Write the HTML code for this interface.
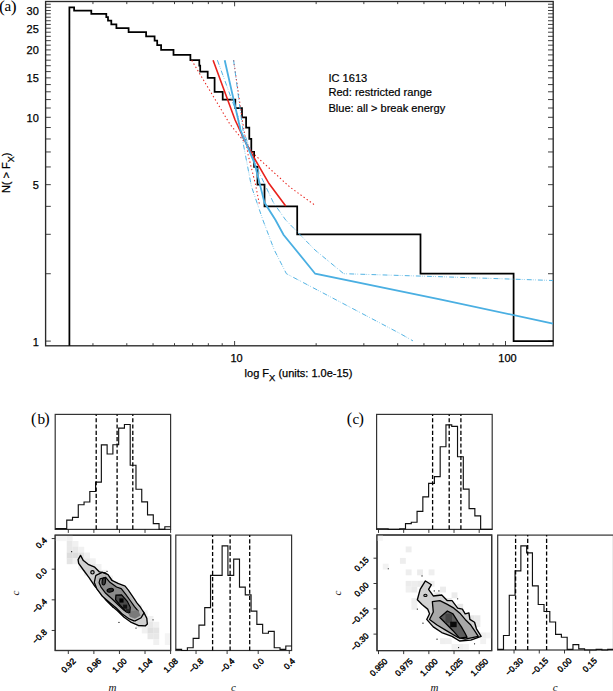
<!DOCTYPE html>
<html><head><meta charset="utf-8"><style>
html,body{margin:0;padding:0;background:#fff;}
svg{display:block;}
.sa{font-family:"Liberation Sans",sans-serif;font-size:11px;fill:#000;stroke:#000;stroke-width:0.25px;}
.sl{font-family:"Liberation Sans",sans-serif;font-size:11.1px;fill:#000;stroke:#000;stroke-width:0.2px;}
.se{font-family:"Liberation Serif",serif;fill:#000;}
.st{font-family:"Liberation Sans",sans-serif;font-size:8.4px;fill:#000;stroke:#000;stroke-width:0.4px;}
.sm{font-family:"Liberation Serif",serif;font-style:italic;font-size:11px;fill:#111;}
</style></head><body>
<svg width="613" height="691" viewBox="0 0 613 691">
<rect width="613" height="691" fill="#fff"/>
<rect x="45.6" y="1.5" width="507.60" height="344.30" fill="none" stroke="#2a2a2a" stroke-width="1.35"/>
<path d="M45.60 341.10h5.2M553.20 341.10h-5.2M45.60 273.73h5.2M553.20 273.73h-5.2M45.60 234.31h5.2M553.20 234.31h-5.2M45.60 206.35h5.2M553.20 206.35h-5.2M45.60 184.66h5.2M553.20 184.66h-5.2M45.60 166.94h5.2M553.20 166.94h-5.2M45.60 151.96h5.2M553.20 151.96h-5.2M45.60 138.98h5.2M553.20 138.98h-5.2M45.60 127.53h5.2M553.20 127.53h-5.2M45.60 117.29h5.2M553.20 117.29h-5.2M45.60 108.02h5.2M553.20 108.02h-5.2M45.60 99.57h5.2M553.20 99.57h-5.2M45.60 91.79h5.2M553.20 91.79h-5.2M45.60 84.58h5.2M553.20 84.58h-5.2M45.60 77.88h5.2M553.20 77.88h-5.2M45.60 71.60h5.2M553.20 71.60h-5.2M45.60 65.71h5.2M553.20 65.71h-5.2M45.60 60.16h5.2M553.20 60.16h-5.2M45.60 54.90h5.2M553.20 54.90h-5.2M45.60 49.91h5.2M553.20 49.91h-5.2M45.60 45.17h5.2M553.20 45.17h-5.2M45.60 40.65h5.2M553.20 40.65h-5.2M45.60 36.33h5.2M553.20 36.33h-5.2M45.60 32.19h5.2M553.20 32.19h-5.2M45.60 28.23h5.2M553.20 28.23h-5.2M45.60 24.41h5.2M553.20 24.41h-5.2M45.60 20.74h5.2M553.20 20.74h-5.2M45.60 17.21h5.2M553.20 17.21h-5.2M45.60 13.80h5.2M553.20 13.80h-5.2M45.60 10.50h5.2M553.20 10.50h-5.2M45.60 7.32h5.2M553.20 7.32h-5.2M45.60 4.23h5.2M553.20 4.23h-5.2M92.95 345.80v-2.6M92.95 1.50v2.6M126.80 345.80v-2.6M126.80 1.50v2.6M153.05 345.80v-2.6M153.05 1.50v2.6M174.50 345.80v-2.6M174.50 1.50v2.6M192.64 345.80v-2.6M192.64 1.50v2.6M208.35 345.80v-2.6M208.35 1.50v2.6M222.20 345.80v-2.6M222.20 1.50v2.6M234.60 345.80v-4.8M234.60 1.50v4.8M316.15 345.80v-2.6M316.15 1.50v2.6M363.85 345.80v-2.6M363.85 1.50v2.6M397.70 345.80v-2.6M397.70 1.50v2.6M423.95 345.80v-2.6M423.95 1.50v2.6M445.40 345.80v-2.6M445.40 1.50v2.6M463.54 345.80v-2.6M463.54 1.50v2.6M479.25 345.80v-2.6M479.25 1.50v2.6M493.10 345.80v-2.6M493.10 1.50v2.6M505.50 345.80v-4.8M505.50 1.50v4.8" stroke="#2a2a2a" stroke-width="0.9" fill="none"/>
<text x="38.8" y="345.60" text-anchor="end" class="sa">1</text>
<text x="38.8" y="189.16" text-anchor="end" class="sa">5</text>
<text x="38.8" y="121.79" text-anchor="end" class="sa">10</text>
<text x="38.8" y="82.38" text-anchor="end" class="sa">15</text>
<text x="38.8" y="54.41" text-anchor="end" class="sa">20</text>
<text x="38.8" y="32.73" text-anchor="end" class="sa">25</text>
<text x="38.8" y="15.00" text-anchor="end" class="sa">30</text>
<text x="236.60" y="361.6" text-anchor="middle" class="sa">10</text>
<text x="507.50" y="361.6" text-anchor="middle" class="sa">100</text>
<text x="244.6" y="377.4" class="sa">log F<tspan dy="3.3" font-size="9.4">X</tspan><tspan dy="-3.3"> (units: 1.0e-15)</tspan></text>
<text transform="translate(10.3,193.1) rotate(-90)" class="sa">N( &gt; F<tspan dy="3.2" font-size="9">X</tspan><tspan dy="-3.2">)</tspan></text>
<text class="se"><tspan x="-0.9" y="11.6" font-size="17.6">(</tspan><tspan x="4.6" y="10.9" font-size="15">a</tspan><tspan x="10.7" y="11.6" font-size="17.6">)</tspan></text>
<text x="328.4" y="81.7" class="sl">IC 1613</text>
<text x="328.4" y="95.9" class="sl">Red: restricted range</text>
<text x="328.4" y="112.1" class="sl">Blue: all &gt; break energy</text>
<path d="M69.40 345.80L69.40 7.32L74.10 7.32L74.10 10.50L91.30 10.50L91.30 13.80L106.30 13.80L106.30 17.21L108.00 17.21L108.00 20.74L111.30 20.74L111.30 24.41L116.40 24.41L116.40 28.23L128.60 28.23L128.60 32.19L146.10 32.19L146.10 36.33L154.60 36.33L154.60 40.65L157.20 40.65L157.20 45.17L161.10 45.17L161.10 49.91L173.50 49.91L173.50 54.90L190.40 54.90L190.40 60.16L199.30 60.16L199.30 65.71L200.20 65.71L200.20 71.60L207.70 71.60L207.70 77.88L214.60 77.88L214.60 91.79L222.70 91.79L222.70 99.57L235.30 99.57L235.30 108.02L242.00 108.02L242.00 117.29L246.10 117.29L246.10 127.53L249.30 127.53L249.30 138.98L251.30 138.98L251.30 151.96L254.10 151.96L254.10 166.94L257.50 166.94L257.50 184.66L264.50 184.66L264.50 206.35L297.20 206.35L297.20 234.31L420.50 234.31L420.50 273.73L513.60 273.73L513.60 341.10L553.20 341.10" fill="none" stroke="#000" stroke-width="1.75" stroke-linejoin="miter"/>
<path d="M191.7 60.2L200.0 74.3L230.0 124.3L256.0 156.1L290.0 187.2L315.9 205.9" fill="none" stroke="#e8221c" stroke-width="1.05" stroke-dasharray="1.4 2.4"/>
<path d="M233.6 60.2L242.3 120.0L248.1 154.7L255.3 183.6L259.6 205.0" fill="none" stroke="#e8221c" stroke-width="1.05" stroke-dasharray="1.4 2.4"/>
<path d="M217.4 60.2L238.2 117.2L251.4 186.3L262.9 220.0L274.3 250.0L286.4 273.7L400.0 333.5L413.0 340.9" fill="none" stroke="#4aafe2" stroke-width="0.95" stroke-dasharray="4.9 1.2 0.6 1.5 0.6 2.3"/>
<path d="M233.6 60.2L242.9 130.0L258.9 172.0L273.4 202.6L285.7 220.0L315.0 250.0L343.7 273.7L440.0 276.7L553.0 280.5" fill="none" stroke="#4aafe2" stroke-width="0.95" stroke-dasharray="4.9 1.2 0.6 1.5 0.6 2.3"/>
<path d="M213.1 60.2L235.1 120.0L244.5 140.2L253.1 156.1L269.0 183.6L285.7 206.0" fill="none" stroke="#e8221c" stroke-width="1.6"/>
<path d="M224.7 60.2L240.5 130.0L254.6 163.4L264.5 202.6L275.5 220.0L283.5 234.7L315.2 273.7L440.0 299.3L553.0 323.6" fill="none" stroke="#4aafe2" stroke-width="1.8"/>
<text class="se"><tspan x="31.1" y="423.9" font-size="16.3">(</tspan><tspan x="37.4" y="423.7" font-size="15.3">b</tspan><tspan x="44.2" y="423.9" font-size="16.3">)</tspan></text>
<rect x="55.2" y="414.4" width="115.40" height="115.00" fill="none" stroke="#333" stroke-width="1.2"/>
<path d="M55.20 528.60L60.97 528.60L60.97 528.60L66.74 528.60L66.74 520.10L72.51 520.10L72.51 517.40L78.28 517.40L78.28 504.70L84.05 504.70L84.05 502.00L89.82 502.00L89.82 491.50L95.59 491.50L95.59 482.10L101.36 482.10L101.36 444.80L107.13 444.80L107.13 454.00L112.90 454.00L112.90 444.70L118.67 444.70L118.67 428.10L124.44 428.10L124.44 424.50L130.21 424.50L130.21 465.20L135.98 465.20L135.98 489.20L141.75 489.20L141.75 501.90L147.52 501.90L147.52 514.90L153.29 514.90L153.29 523.60L159.06 523.60L159.06 529.40L164.83 529.40L164.83 526.70L170.60 526.70" fill="none" stroke="#111" stroke-width="1.15" />
<path d="M96.2 529.4V414.4" stroke="#000" stroke-width="1.3" stroke-dasharray="4.1 2.2"/>
<path d="M117.1 529.4V414.4" stroke="#000" stroke-width="1.3" stroke-dasharray="4.1 2.2"/>
<path d="M132.8 529.4V414.4" stroke="#000" stroke-width="1.3" stroke-dasharray="4.1 2.2"/>
<rect x="55.2" y="535.2" width="115.40" height="115.30" fill="none" stroke="#333" stroke-width="1.2"/>
<rect x="175.8" y="535.1" width="115.80" height="115.40" fill="none" stroke="#333" stroke-width="1.2"/>
<path d="M175.80 649.30L181.59 649.30L181.59 650.50L187.38 650.50L187.38 647.70L193.17 647.70L193.17 638.30L198.96 638.30L198.96 625.10L204.75 625.10L204.75 607.60L210.54 607.60L210.54 575.40L216.33 575.40L216.33 575.40L222.12 575.40L222.12 545.80L227.91 545.80L227.91 575.40L233.70 575.40L233.70 559.10L239.49 559.10L239.49 587.10L245.28 587.10L245.28 594.80L251.07 594.80L251.07 611.10L256.86 611.10L256.86 624.40L262.65 624.40L262.65 633.20L268.44 633.20L268.44 631.40L274.23 631.40L274.23 647.70L280.02 647.70L280.02 649.30L285.81 649.30L285.81 646.00L291.60 646.00" fill="none" stroke="#111" stroke-width="1.15" />
<path d="M212.6 650.5V535.1" stroke="#000" stroke-width="1.3" stroke-dasharray="4.1 2.2"/>
<path d="M230.1 650.5V535.1" stroke="#000" stroke-width="1.3" stroke-dasharray="4.1 2.2"/>
<path d="M249.7 650.5V535.1" stroke="#000" stroke-width="1.3" stroke-dasharray="4.1 2.2"/>
<text class="se"><tspan x="346.8" y="423.9" font-size="16.3">(</tspan><tspan x="352.5" y="423.7" font-size="15">c</tspan><tspan x="358.4" y="423.9" font-size="16.3">)</tspan></text>
<rect x="376.6" y="414.4" width="115.60" height="115.00" fill="none" stroke="#333" stroke-width="1.2"/>
<path d="M376.60 528.70L382.38 528.70L382.38 528.70L388.16 528.70L388.16 529.40L393.94 529.40L393.94 529.40L399.72 529.40L399.72 528.70L405.50 528.70L405.50 523.60L411.28 523.60L411.28 522.20L417.06 522.20L417.06 511.30L422.84 511.30L422.84 496.90L428.62 496.90L428.62 483.30L434.40 483.30L434.40 476.60L440.18 476.60L440.18 446.70L445.96 446.70L445.96 424.80L451.74 424.80L451.74 426.30L457.52 426.30L457.52 456.70L463.30 456.70L463.30 489.10L469.08 489.10L469.08 508.60L474.86 508.60L474.86 515.90L480.64 515.90L480.64 529.40L486.42 529.40L486.42 529.40L492.20 529.40" fill="none" stroke="#111" stroke-width="1.15" />
<path d="M432.6 529.4V414.4" stroke="#000" stroke-width="1.3" stroke-dasharray="4.1 2.2"/>
<path d="M449.2 529.4V414.4" stroke="#000" stroke-width="1.3" stroke-dasharray="4.1 2.2"/>
<path d="M460.9 529.4V414.4" stroke="#000" stroke-width="1.3" stroke-dasharray="4.1 2.2"/>
<rect x="377.0" y="535.0" width="114.70" height="115.60" fill="none" stroke="#333" stroke-width="1.2"/>
<rect x="497.7" y="535.1" width="115.80" height="114.90" fill="none" stroke="#333" stroke-width="1.2"/>
<path d="M497.70 649.30L503.49 649.30L503.49 635.50L509.28 635.50L509.28 595.20L515.07 595.20L515.07 570.80L520.86 570.80L520.86 545.80L526.65 545.80L526.65 552.80L532.44 552.80L532.44 585.90L538.23 585.90L538.23 604.50L544.02 604.50L544.02 611.50L549.81 611.50L549.81 622.00L555.60 622.00L555.60 634.40L561.39 634.40L561.39 637.20L567.18 637.20L567.18 649.30L572.97 649.30L572.97 644.60L578.76 644.60L578.76 648.80L584.55 648.80L584.55 650.00L590.34 650.00L590.34 650.00L596.13 650.00L596.13 649.30L601.92 649.30L601.92 650.00L607.71 650.00L607.71 649.30L613.50 649.30" fill="none" stroke="#111" stroke-width="1.15" />
<path d="M515.6 650.0V535.1" stroke="#000" stroke-width="1.3" stroke-dasharray="4.1 2.2"/>
<path d="M527.7 650.0V535.1" stroke="#000" stroke-width="1.3" stroke-dasharray="4.1 2.2"/>
<path d="M546.6 650.0V535.1" stroke="#000" stroke-width="1.3" stroke-dasharray="4.1 2.2"/>
<path d="M68.30 529.4v3.5M68.30 650.5v3.5M93.88 529.4v3.5M93.88 650.5v3.5M119.45 529.4v3.5M119.45 650.5v3.5M145.03 529.4v3.5M145.03 650.5v3.5M170.60 529.4v3.5M170.60 650.5v3.5M55.2 538.56h-3.5M55.2 569.20h-3.5M55.2 599.84h-3.5M55.2 630.48h-3.5M196.04 650.5v3.5M227.12 650.5v3.5M258.20 650.5v3.5M289.28 650.5v3.5" stroke="#222" stroke-width="0.9" fill="none"/>
<text transform="translate(70.44,667.56) rotate(-45)" text-anchor="middle" class="st">0.92</text>
<text transform="translate(96.02,667.56) rotate(-45)" text-anchor="middle" class="st">0.96</text>
<text transform="translate(121.59,667.56) rotate(-45)" text-anchor="middle" class="st">1.00</text>
<text transform="translate(147.17,667.56) rotate(-45)" text-anchor="middle" class="st">1.04</text>
<text transform="translate(172.74,667.56) rotate(-45)" text-anchor="middle" class="st">1.08</text>
<text transform="translate(47.50,540.86) rotate(-45)" text-anchor="end" class="st">0.4</text>
<text transform="translate(47.50,571.50) rotate(-45)" text-anchor="end" class="st">0.0</text>
<text transform="translate(47.50,602.14) rotate(-45)" text-anchor="end" class="st">−0.4</text>
<text transform="translate(47.50,632.78) rotate(-45)" text-anchor="end" class="st">−0.8</text>
<text transform="translate(198.18,667.65) rotate(-45)" text-anchor="middle" class="st">−0.8</text>
<text transform="translate(229.26,667.65) rotate(-45)" text-anchor="middle" class="st">−0.4</text>
<text transform="translate(260.34,665.91) rotate(-45)" text-anchor="middle" class="st">0.0</text>
<text transform="translate(291.42,665.91) rotate(-45)" text-anchor="middle" class="st">0.4</text>
<text x="112.4" y="691.3" text-anchor="middle" class="sm">m</text>
<text x="233.4" y="691.3" text-anchor="middle" class="sm">c</text>
<text transform="translate(19.4,593) rotate(-90)" text-anchor="middle" class="sm">c</text>
<path d="M378.50 529.4v3.5M378.50 650.6v3.5M403.68 529.4v3.5M403.68 650.6v3.5M428.85 529.4v3.5M428.85 650.6v3.5M454.02 529.4v3.5M454.02 650.6v3.5M479.20 529.4v3.5M479.20 650.6v3.5M377.0 558.20h-3.5M377.0 583.50h-3.5M377.0 608.80h-3.5M377.0 634.11h-3.5M514.04 650.0v3.5M539.27 650.0v3.5M564.50 650.0v3.5M589.73 650.0v3.5" stroke="#222" stroke-width="0.9" fill="none"/>
<text transform="translate(380.64,669.32) rotate(-45)" text-anchor="middle" class="st">0.950</text>
<text transform="translate(405.82,669.32) rotate(-45)" text-anchor="middle" class="st">0.975</text>
<text transform="translate(430.99,669.32) rotate(-45)" text-anchor="middle" class="st">1.000</text>
<text transform="translate(456.17,669.32) rotate(-45)" text-anchor="middle" class="st">1.025</text>
<text transform="translate(481.34,669.32) rotate(-45)" text-anchor="middle" class="st">1.050</text>
<text transform="translate(369.30,560.50) rotate(-45)" text-anchor="end" class="st">0.15</text>
<text transform="translate(369.30,585.80) rotate(-45)" text-anchor="end" class="st">0.00</text>
<text transform="translate(369.30,611.10) rotate(-45)" text-anchor="end" class="st">−0.15</text>
<text transform="translate(369.30,636.41) rotate(-45)" text-anchor="end" class="st">−0.30</text>
<text transform="translate(516.18,668.80) rotate(-45)" text-anchor="middle" class="st">−0.30</text>
<text transform="translate(541.41,668.80) rotate(-45)" text-anchor="middle" class="st">−0.15</text>
<text transform="translate(566.64,667.06) rotate(-45)" text-anchor="middle" class="st">0.00</text>
<text transform="translate(591.87,667.06) rotate(-45)" text-anchor="middle" class="st">0.15</text>
<text x="434.4" y="691.3" text-anchor="middle" class="sm">m</text>
<text x="555.2" y="691.3" text-anchor="middle" class="sm">c</text>
<text transform="translate(341,593) rotate(-90)" text-anchor="middle" class="sm">c</text>
<rect x="66.74" y="535.20" width="5.92" height="5.92" fill="#f1f1f1"/><rect x="66.74" y="540.97" width="5.92" height="5.92" fill="#e8e8e8"/><rect x="66.74" y="546.74" width="5.92" height="5.92" fill="#e8e8e8"/><rect x="66.74" y="552.51" width="5.92" height="5.92" fill="#dcdcdc"/><rect x="72.51" y="540.97" width="5.92" height="5.92" fill="#f1f1f1"/><rect x="72.51" y="546.74" width="5.92" height="5.92" fill="#e8e8e8"/><rect x="72.51" y="552.51" width="5.92" height="5.92" fill="#dddddd"/><rect x="72.51" y="558.28" width="5.92" height="5.92" fill="#f1f1f1"/><rect x="78.28" y="546.74" width="5.92" height="5.92" fill="#f1f1f1"/><rect x="78.28" y="552.51" width="5.92" height="5.92" fill="#e2e2e2"/><rect x="78.28" y="558.28" width="5.92" height="5.92" fill="#e8e8e8"/><rect x="78.28" y="564.05" width="5.92" height="5.92" fill="#f1f1f1"/><rect x="84.05" y="552.51" width="5.92" height="5.92" fill="#f1f1f1"/><rect x="84.05" y="558.28" width="5.92" height="5.92" fill="#e8e8e8"/><rect x="84.05" y="564.05" width="5.92" height="5.92" fill="#e8e8e8"/><rect x="84.05" y="569.82" width="5.92" height="5.92" fill="#f1f1f1"/><rect x="89.82" y="558.28" width="5.92" height="5.92" fill="#f1f1f1"/><rect x="89.82" y="564.05" width="5.92" height="5.92" fill="#e8e8e8"/><rect x="89.82" y="569.82" width="5.92" height="5.92" fill="#e8e8e8"/><rect x="89.82" y="575.59" width="5.92" height="5.92" fill="#f1f1f1"/><rect x="95.59" y="564.05" width="5.92" height="5.92" fill="#f1f1f1"/><rect x="95.59" y="569.82" width="5.92" height="5.92" fill="#e8e8e8"/><rect x="95.59" y="575.59" width="5.92" height="5.92" fill="#e8e8e8"/><rect x="95.59" y="581.36" width="5.92" height="5.92" fill="#f1f1f1"/><rect x="101.36" y="569.82" width="5.92" height="5.92" fill="#f1f1f1"/><rect x="101.36" y="575.59" width="5.92" height="5.92" fill="#e8e8e8"/><rect x="101.36" y="581.36" width="5.92" height="5.92" fill="#e8e8e8"/><rect x="101.36" y="587.13" width="5.92" height="5.92" fill="#f1f1f1"/><rect x="107.13" y="575.59" width="5.92" height="5.92" fill="#f1f1f1"/><rect x="107.13" y="581.36" width="5.92" height="5.92" fill="#e8e8e8"/><rect x="107.13" y="587.13" width="5.92" height="5.92" fill="#e8e8e8"/><rect x="107.13" y="592.90" width="5.92" height="5.92" fill="#f1f1f1"/><rect x="112.90" y="581.36" width="5.92" height="5.92" fill="#f1f1f1"/><rect x="112.90" y="587.13" width="5.92" height="5.92" fill="#e8e8e8"/><rect x="112.90" y="592.90" width="5.92" height="5.92" fill="#e8e8e8"/><rect x="112.90" y="598.67" width="5.92" height="5.92" fill="#f1f1f1"/><rect x="118.67" y="587.13" width="5.92" height="5.92" fill="#f1f1f1"/><rect x="118.67" y="592.90" width="5.92" height="5.92" fill="#e8e8e8"/><rect x="118.67" y="598.67" width="5.92" height="5.92" fill="#e8e8e8"/><rect x="118.67" y="604.44" width="5.92" height="5.92" fill="#f1f1f1"/><rect x="124.44" y="592.90" width="5.92" height="5.92" fill="#f1f1f1"/><rect x="124.44" y="598.67" width="5.92" height="5.92" fill="#e8e8e8"/><rect x="124.44" y="604.44" width="5.92" height="5.92" fill="#e8e8e8"/><rect x="124.44" y="610.21" width="5.92" height="5.92" fill="#f1f1f1"/><rect x="130.21" y="598.67" width="5.92" height="5.92" fill="#f1f1f1"/><rect x="130.21" y="604.44" width="5.92" height="5.92" fill="#e8e8e8"/><rect x="130.21" y="610.21" width="5.92" height="5.92" fill="#e8e8e8"/><rect x="130.21" y="615.98" width="5.92" height="5.92" fill="#f1f1f1"/><rect x="135.98" y="604.44" width="5.92" height="5.92" fill="#f1f1f1"/><rect x="135.98" y="610.21" width="5.92" height="5.92" fill="#e8e8e8"/><rect x="135.98" y="615.98" width="5.92" height="5.92" fill="#e8e8e8"/><rect x="135.98" y="621.75" width="5.92" height="5.92" fill="#f1f1f1"/><rect x="141.75" y="610.21" width="5.92" height="5.92" fill="#f1f1f1"/><rect x="141.75" y="615.98" width="5.92" height="5.92" fill="#e8e8e8"/><rect x="141.75" y="621.75" width="5.92" height="5.92" fill="#e8e8e8"/><rect x="141.75" y="627.52" width="5.92" height="5.92" fill="#f1f1f1"/><rect x="147.52" y="615.98" width="5.92" height="5.92" fill="#f1f1f1"/><rect x="147.52" y="621.75" width="5.92" height="5.92" fill="#e8e8e8"/><rect x="147.52" y="627.52" width="5.92" height="5.92" fill="#e0e0e0"/><rect x="147.52" y="633.29" width="5.92" height="5.92" fill="#e8e8e8"/><rect x="153.29" y="621.75" width="5.92" height="5.92" fill="#f1f1f1"/><rect x="153.29" y="627.52" width="5.92" height="5.92" fill="#e4e4e4"/><rect x="153.29" y="633.29" width="5.92" height="5.92" fill="#e8e8e8"/><rect x="153.29" y="639.06" width="5.92" height="5.92" fill="#f1f1f1"/><rect x="66.74" y="558.28" width="5.92" height="5.92" fill="#e4e4e4"/><rect x="55.20" y="535.20" width="5.92" height="5.92" fill="#f6f6f6"/><rect x="60.97" y="535.20" width="5.92" height="5.92" fill="#f6f6f6"/><rect x="164.83" y="639.06" width="5.92" height="5.92" fill="#f4f4f4"/><rect x="164.83" y="633.29" width="5.92" height="5.92" fill="#f4f4f4"/>
<path d="M80.55 555.44L83.39 560.55L88.12 564.33L94.74 567.17L99.47 571.90L105.15 572.85L109.88 577.58L113.67 582.31L121.24 585.72L125.97 588.94L129.75 594.61L133.54 600.29L136.38 605.02L140.16 608.81L143.95 612.59L146.79 618.27L147.35 623.95L145.46 625.84L138.27 625.46L130.70 622.06L124.08 617.32L117.45 610.70L111.78 605.97L106.10 600.29L100.42 592.72L94.74 586.10L89.07 577.58L83.39 570.01L78.66 563.39L78.09 559.60Z" fill="#d0d0d0" stroke="#000" stroke-width="1.35" stroke-linejoin="round"/>
<path d="M97.01 576.26L102.31 573.80L107.04 575.69L110.83 581.37L117.45 584.58L124.08 587.04L127.86 591.78L131.65 597.45L135.43 603.13L139.22 607.86L142.43 612.97L140.16 616.76L134.49 619.60L129.75 617.70L123.13 612.97L117.45 607.29L109.88 600.86L103.26 595.18L98.15 588.37L95.69 582.31Z" fill="#b4b4b4" stroke="#000" stroke-width="4.0" stroke-linejoin="round"/>
<path d="M97.01 576.26L102.31 573.80L107.04 575.69L110.83 581.37L117.45 584.58L124.08 587.04L127.86 591.78L131.65 597.45L135.43 603.13L139.22 607.86L142.43 612.97L140.16 616.76L134.49 619.60L129.75 617.70L123.13 612.97L117.45 607.29L109.88 600.86L103.26 595.18L98.15 588.37L95.69 582.31Z" fill="#b4b4b4" stroke="#bdbdbd" stroke-width="1.4" stroke-linejoin="round"/>
<path d="M100.04 578.91L105.72 577.39L109.88 582.31L116.51 587.04L121.24 588.56L125.97 594.61L130.70 601.24L134.49 606.54L138.27 611.08L136.00 614.49L130.70 614.11L124.08 610.32L118.40 605.02L112.15 598.97L105.72 593.29L100.99 587.04L99.10 582.69Z" fill="#8a8a8a" stroke="#000" stroke-width="1.2" stroke-linejoin="round"/>
<path d="M127.86 611.65L138.27 610.32L140.54 615.43L134.86 618.84L129.75 616.76Z" fill="#7a7a7a"/>
<path d="M115.94 595.18L121.62 594.80L127.29 601.24L130.32 607.29L129.75 612.59L125.97 611.65L120.29 605.40L115.56 599.72Z" fill="#4a4a4a" stroke="#000" stroke-width="1.2"/>
<rect x="119.35" y="598.40" width="4.2" height="4.2" fill="#000"/>
<rect x="123.13" y="604.64" width="4" height="4" fill="#111"/>
<rect x="125.97" y="609.19" width="3.2" height="3.2" fill="#222"/>
<ellipse cx="103.83" cy="581.37" rx="1.7" ry="3.6" transform="rotate(8 103.83 581.37)" fill="#3a3a3a" stroke="#000" stroke-width="1.1"/>
<ellipse cx="110.26" cy="590.26" rx="3.3" ry="1.8" transform="rotate(-12 110.26 590.26)" fill="#222" stroke="#000" stroke-width="1.1"/>
<circle cx="92.47" cy="572.28" r="1.7" fill="#c0c0c0" stroke="#000" stroke-width="1.2"/>
<circle cx="71.65" cy="551.65" r="0.6" fill="#000"/>
<circle cx="107.04" cy="571.34" r="0.6" fill="#000"/>
<circle cx="118.97" cy="622.43" r="0.6" fill="#000"/>
<circle cx="136.00" cy="628.11" r="0.6" fill="#000"/>
<circle cx="153.03" cy="619.78" r="0.6" fill="#000"/>
<circle cx="112.72" cy="606.92" r="0.6" fill="#000"/>
<rect x="405.68" y="546.47" width="5.89" height="5.89" fill="#eeeeee"/><rect x="399.94" y="557.94" width="5.89" height="5.89" fill="#eeeeee"/><rect x="382.74" y="563.67" width="5.89" height="5.89" fill="#f2f2f2"/><rect x="405.68" y="569.41" width="5.89" height="5.89" fill="#eeeeee"/><rect x="417.14" y="569.41" width="5.89" height="5.89" fill="#ececec"/><rect x="428.62" y="569.41" width="5.89" height="5.89" fill="#efefef"/><rect x="405.68" y="580.88" width="5.89" height="5.89" fill="#ececec"/><rect x="411.41" y="580.88" width="5.89" height="5.89" fill="#ededed"/><rect x="417.14" y="580.88" width="5.89" height="5.89" fill="#eaeaea"/><rect x="422.88" y="580.88" width="5.89" height="5.89" fill="#ececec"/><rect x="428.62" y="580.88" width="5.89" height="5.89" fill="#eeeeee"/><rect x="405.68" y="586.62" width="5.89" height="5.89" fill="#f0f0f0"/><rect x="411.41" y="586.62" width="5.89" height="5.89" fill="#eaeaea"/><rect x="440.08" y="586.62" width="5.89" height="5.89" fill="#ececec"/><rect x="451.56" y="592.35" width="5.89" height="5.89" fill="#ebebeb"/><rect x="411.41" y="598.09" width="5.89" height="5.89" fill="#efefef"/><rect x="411.41" y="603.82" width="5.89" height="5.89" fill="#f0f0f0"/><rect x="457.29" y="603.82" width="5.89" height="5.89" fill="#e8e8e8"/><rect x="468.76" y="615.29" width="5.89" height="5.89" fill="#e6e6e6"/><rect x="474.50" y="615.29" width="5.89" height="5.89" fill="#eaeaea"/><rect x="468.76" y="621.02" width="5.89" height="5.89" fill="#e8e8e8"/><rect x="474.50" y="621.02" width="5.89" height="5.89" fill="#ececec"/><rect x="480.23" y="632.50" width="5.89" height="5.89" fill="#f0f0f0"/><rect x="480.23" y="638.23" width="5.89" height="5.89" fill="#f2f2f2"/><rect x="440.08" y="638.23" width="5.89" height="5.89" fill="#efefef"/><rect x="445.82" y="638.23" width="5.89" height="5.89" fill="#f0f0f0"/><rect x="451.56" y="643.97" width="5.89" height="5.89" fill="#f2f2f2"/><rect x="457.29" y="643.97" width="5.89" height="5.89" fill="#f0f0f0"/><rect x="463.02" y="643.97" width="5.89" height="5.89" fill="#f4f4f4"/><rect x="434.35" y="592.35" width="5.89" height="5.89" fill="#e8e8e8"/><rect x="445.82" y="598.09" width="5.89" height="5.89" fill="#e8e8e8"/><rect x="422.88" y="592.35" width="5.89" height="5.89" fill="#ededed"/><rect x="377.00" y="535.00" width="5.89" height="5.89" fill="#f6f6f6"/><rect x="485.97" y="632.50" width="5.89" height="5.89" fill="#f4f4f4"/>
<path d="M425.41 580.97L431.41 584.72L428.59 589.41L433.29 595.98L441.73 595.04L447.36 600.67L452.05 600.67L457.68 608.17L462.37 609.11L465.18 613.80L468.93 612.86L469.87 619.43L474.56 622.24L476.44 628.81L481.13 636.31L470.81 640.07L459.55 641.00L452.05 636.31L441.73 632.56L433.29 626.93L426.72 619.43L429.53 613.80L427.66 609.11L422.03 604.42L417.34 599.73L420.15 589.41Z" fill="#d2d2d2" stroke="#000" stroke-width="1.35" stroke-linejoin="round"/>
<path d="M432.35 601.60L439.85 600.67L447.36 604.42L453.92 608.17L460.49 613.80L465.18 619.43L470.81 625.06L474.56 630.68L478.31 636.31L465.18 639.13L457.68 637.25L446.42 630.68L437.04 625.06L429.53 619.43L433.29 611.92Z" fill="#a8a8a8" stroke="#000" stroke-width="1.3" stroke-linejoin="round"/>
<path d="M439.85 617.55L447.36 610.98L452.98 613.80L457.68 621.30L461.43 626.93L465.18 633.50L467.06 637.25L459.55 638.19L452.98 630.68L447.36 625.06Z" fill="#5c5c5c" stroke="#000" stroke-width="1.3" stroke-linejoin="round"/>
<rect x="445.48" y="613.80" width="6.5" height="9" fill="#444"/>
<rect x="450.17" y="621.68" width="6.5" height="5.5" fill="#0a0a0a"/>
<ellipse cx="425.41" cy="595.41" rx="1.6" ry="1.1" fill="#aaa" stroke="#000" stroke-width="1.1"/>
<circle cx="388.26" cy="568.77" r="0.6" fill="#000"/>
<circle cx="422.03" cy="575.90" r="0.6" fill="#000"/>
<circle cx="434.22" cy="590.91" r="0.6" fill="#000"/>
<circle cx="438.91" cy="590.91" r="0.6" fill="#000"/>
<circle cx="417.34" cy="609.11" r="0.6" fill="#000"/>
<circle cx="422.97" cy="623.18" r="0.6" fill="#000"/>
<circle cx="457.68" cy="598.79" r="0.6" fill="#000"/>
<circle cx="437.04" cy="639.13" r="0.6" fill="#000"/>
<circle cx="474.56" cy="643.82" r="0.6" fill="#000"/>
<circle cx="458.61" cy="647.57" r="0.6" fill="#000"/>
<rect x="55.2" y="535.2" width="115.40" height="115.30" fill="none" stroke="#333" stroke-width="1.2"/>
<rect x="377.0" y="535.0" width="114.70" height="115.60" fill="none" stroke="#333" stroke-width="1.2"/>
</svg></body></html>
